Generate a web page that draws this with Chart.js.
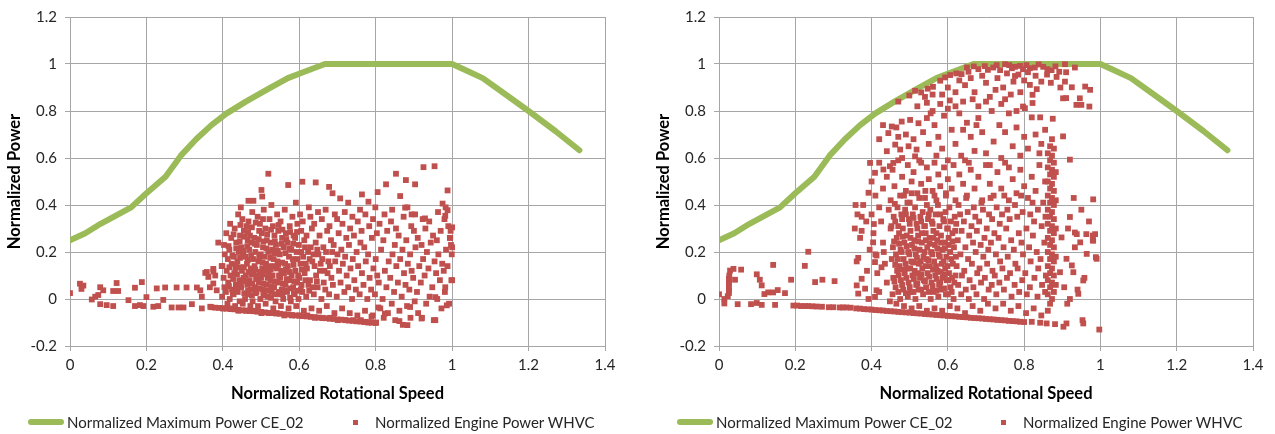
<!DOCTYPE html>
<html>
<head>
<meta charset="utf-8">
<script src="https://cdn.jsdelivr.net/npm/chart.js@4.4.1/dist/chart.umd.min.js"></script>
<style>
  body { margin: 0; background: #fff; }
  #wrap { position: relative; width: 1275px; height: 434px; font-family: Lato, "Noto Sans", sans-serif; color: #262626; }
  canvas { position: absolute; top: 0; }
  .lg-text { position: absolute; top: 412px; font-size: 15px; line-height: 20px; white-space: nowrap; }
  .lg-line { position: absolute; top: 419px; width: 36px; height: 6px; border-radius: 3px; background: #9bbb59; }
  .lg-box { position: absolute; top: 420px; width: 5px; height: 5px; background: #c0504d; }
</style>
</head>
<body>
<div id="wrap">
  <canvas id="chartA" width="637" height="434" style="left:0"></canvas>
  <canvas id="chartB" width="638" height="434" style="left:637px"></canvas>

  <div class="lg-line" style="left:28px"></div>
  <div class="lg-text" style="left:67px">Normalized Maximum Power CE_02</div>
  <div class="lg-box" style="left:353px"></div>
  <div class="lg-text" style="left:375px">Normalized Engine Power WHVC</div>

  <div class="lg-line" style="left:677px"></div>
  <div class="lg-text" style="left:716px">Normalized Maximum Power CE_02</div>
  <div class="lg-box" style="left:1001px"></div>
  <div class="lg-text" style="left:1023px">Normalized Engine Power WHVC</div>
</div>
<script>
// full load curve (same on both panels)
const speedMax = [0, 0.04, 0.08, 0.12, 0.16, 0.2, 0.25, 0.29, 0.33, 0.37, 0.41, 0.46, 0.52, 0.57, 0.61, 0.667, 1.0, 1.04, 1.08, 1.14, 1.2, 1.27, 1.333];
const powerMax = [0.25, 0.28, 0.32, 0.355, 0.39, 0.45, 0.52, 0.61, 0.68, 0.74, 0.79, 0.84, 0.895, 0.94, 0.965, 1.0, 1.0, 0.97, 0.94, 0.87, 0.8, 0.715, 0.633];

// left panel - WHVC points
const lowSpeedA = [[0,0.025],[0.026,0.065],[0.03,0.043],[0.035,0.057],[0.057,-0.002],[0.066,0.01],[0.074,0.017],[0.079,0.05],[0.087,0.037],
  [0.079,-0.022],[0.096,-0.026],[0.113,-0.03],[0.122,0.068],[0.113,0.034],[0.126,0.034],[0.153,-0.005],[0.17,-0.03],[0.183,-0.026],[0.192,-0.03],
  [0.17,0.048],[0.188,0.072],[0.2,0.008],[0.218,-0.033],[0.231,-0.03],[0.227,0.045],[0.249,0.049],[0.279,0.049],[0.305,0.049],[0.244,-0.004],
  [0.266,-0.036],[0.284,-0.036],[0.297,-0.036],[0.319,-0.022],[0.332,0.049],[0.341,0.037],[0.345,0.01],[0.354,0.111],[0.362,0.094],[0.375,0.117],
  [0.388,0.24],[0.375,0.066],[0.384,0.037],[0.345,-0.04],[0.367,-0.033],[0.397,0.14],[0.358,0.115],[0.375,0.128],[0.38,0.1],[0.366,0.05]];
const motoringA = [[0.37,-0.035],[0.38,-0.037],[0.39,-0.038],[0.40,-0.040],[0.41,-0.041],[0.42,-0.043],[0.43,-0.044],[0.44,-0.046],[0.45,-0.048],
  [0.46,-0.049],[0.47,-0.051],[0.48,-0.052],[0.49,-0.054],[0.50,-0.055],[0.51,-0.057],[0.52,-0.059],[0.53,-0.060],[0.54,-0.062],[0.55,-0.063],
  [0.56,-0.065],[0.57,-0.066],[0.58,-0.068],[0.59,-0.070],[0.60,-0.071],[0.61,-0.073],[0.62,-0.074],[0.63,-0.076],[0.64,-0.077],[0.65,-0.079],
  [0.66,-0.081],[0.67,-0.082],[0.68,-0.084],[0.69,-0.085],[0.70,-0.087],[0.71,-0.088],[0.72,-0.090],[0.73,-0.092],[0.74,-0.093],[0.75,-0.095],
  [0.76,-0.096],[0.77,-0.098],[0.78,-0.099],[0.79,-0.101],[0.80,-0.102]];
const cloudA = [
  [0.401,-0.04],[0.398,0.01],[0.404,0.05],[0.402,0.09],[0.399,0.14],[0.405,0.19],[0.403,0.23],
  [0.412,-0.02],[0.408,0.03],[0.414,0.07],[0.41,0.12],[0.413,0.17],[0.409,0.28],
  [0.421,-0.04],[0.418,0.0],[0.424,0.04],[0.42,0.1],[0.423,0.15],[0.417,0.21],[0.422,0.26],[0.419,0.32],
  [0.432,-0.03],[0.428,0.02],[0.434,0.06],[0.43,0.11],[0.433,0.13],[0.429,0.18],[0.435,0.24],[0.431,0.30],
  [0.441,-0.05],[0.444,-0.01],[0.439,0.03],[0.443,0.08],[0.438,0.16],[0.442,0.20],[0.445,0.27],[0.44,0.36],
  [0.452,-0.02],[0.448,0.05],[0.454,0.09],[0.45,0.12],[0.453,0.19],[0.449,0.22],[0.455,0.29],[0.451,0.34],[0.447,0.39],
  [0.461,-0.05],[0.458,0.0],[0.464,0.06],[0.46,0.10],[0.463,0.15],[0.459,0.18],[0.465,0.25],[0.462,0.31],
  [0.472,-0.03],[0.468,0.02],[0.474,0.04],[0.47,0.08],[0.473,0.13],[0.469,0.21],[0.475,0.24],[0.471,0.27],[0.467,0.33],
  [0.481,-0.05],[0.478,-0.01],[0.484,0.05],[0.48,0.11],[0.483,0.14],[0.479,0.17],[0.485,0.20],[0.482,0.26],[0.477,0.37],
  [0.492,-0.03],[0.488,0.03],[0.494,0.07],[0.49,0.10],[0.493,0.16],[0.489,0.23],[0.495,0.29],[0.491,0.35],
  [0.501,-0.06],[0.498,0.0],[0.504,0.04],[0.5,0.09],[0.503,0.13],[0.499,0.19],[0.505,0.22],[0.502,0.28],[0.497,0.32],
  [0.512,-0.02],[0.508,0.02],[0.514,0.06],[0.51,0.12],[0.513,0.15],[0.509,0.18],[0.515,0.25],[0.511,0.30],[0.507,0.38],
  [0.521,-0.06],[0.518,0.01],[0.524,0.08],[0.52,0.11],[0.523,0.14],[0.519,0.20],[0.525,0.24],[0.522,0.34],
  [0.532,-0.04],[0.528,0.03],[0.534,0.05],[0.53,0.10],[0.533,0.17],[0.529,0.21],[0.535,0.27],[0.531,0.31],[0.527,0.40],
  [0.541,-0.06],[0.538,-0.01],[0.544,0.07],[0.54,0.13],[0.543,0.16],[0.539,0.23],[0.545,0.29],[0.542,0.36],
  [0.552,-0.03],[0.548,0.02],[0.554,0.04],[0.55,0.09],[0.553,0.12],[0.549,0.19],[0.555,0.26],[0.551,0.33],
  [0.561,-0.07],[0.558,0.0],[0.564,0.06],[0.56,0.11],[0.563,0.15],[0.559,0.22],[0.565,0.28],[0.562,0.38],
  [0.572,-0.04],[0.568,0.03],[0.574,0.08],[0.57,0.14],[0.573,0.18],[0.569,0.24],[0.575,0.31],
  [0.581,-0.07],[0.578,-0.01],[0.584,0.05],[0.58,0.10],[0.583,0.17],[0.579,0.21],[0.585,0.27],[0.582,0.35],
  [0.592,-0.03],[0.588,0.02],[0.594,0.07],[0.59,0.12],[0.593,0.20],[0.589,0.26],[0.595,0.32],[0.591,0.41],
  [0.601,-0.07],[0.598,0.0],[0.604,0.04],[0.6,0.09],[0.603,0.15],[0.599,0.23],[0.605,0.29],[0.602,0.36],
  [0.612,-0.05],[0.608,0.03],[0.614,0.11],[0.61,0.18],[0.613,0.25],[0.609,0.33],
  [0.621,-0.07],[0.618,0.01],[0.624,0.06],[0.62,0.13],[0.623,0.20],[0.619,0.27],[0.625,0.39],
  [0.632,-0.04],[0.628,0.08],[0.634,0.16],[0.63,0.22],[0.633,0.30],[0.629,0.35],
  [0.641,-0.08],[0.638,0.02],[0.644,0.10],[0.64,0.14],[0.643,0.24],[0.639,0.32],
  [0.652,-0.05],[0.648,0.05],[0.654,0.12],[0.65,0.19],[0.653,0.27],[0.649,0.37],
  [0.661,-0.08],[0.658,0.0],[0.664,0.07],[0.66,0.17],[0.663,0.22],[0.659,0.34],
  [0.672,-0.03],[0.668,0.04],[0.674,0.11],[0.67,0.20],[0.673,0.29],[0.669,0.38],
  [0.681,-0.08],[0.678,0.02],[0.684,0.09],[0.68,0.14],[0.683,0.25],[0.679,0.31],
  [0.692,-0.06],[0.688,0.06],[0.694,0.16],[0.69,0.23],[0.693,0.36],
  [0.701,-0.09],[0.698,0.01],[0.704,0.12],[0.7,0.19],[0.703,0.28],[0.699,0.34],
  [0.712,-0.04],[0.708,0.07],[0.714,0.15],[0.71,0.21],[0.713,0.32],
  [0.721,-0.09],[0.718,0.03],[0.724,0.10],[0.72,0.18],[0.723,0.26],[0.719,0.37],
  [0.732,-0.06],[0.728,0.05],[0.734,0.13],[0.73,0.23],[0.733,0.30],
  [0.741,-0.09],[0.738,0.0],[0.744,0.08],[0.74,0.17],[0.743,0.27],[0.739,0.35],
  [0.752,-0.07],[0.748,0.04],[0.754,0.14],[0.75,0.20],[0.753,0.33],
  [0.761,-0.09],[0.758,0.02],[0.764,0.11],[0.76,0.24],[0.763,0.29],[0.759,0.38],
  [0.772,-0.05],[0.768,0.06],[0.774,0.16],[0.77,0.22],[0.773,0.36],
  [0.781,-0.10],[0.778,0.0],[0.784,0.09],[0.78,0.19],[0.783,0.31],
  [0.792,-0.07],[0.788,0.04],[0.794,0.13],[0.79,0.26],[0.793,0.34],
  [0.801,-0.10],[0.798,0.02],[0.804,0.10],[0.8,0.17],[0.803,0.28],[0.799,0.39],
  [0.812,-0.04],[0.808,0.07],[0.814,0.21],[0.81,0.32],
  [0.821,-0.08],[0.818,0.0],[0.824,0.12],[0.82,0.25],[0.823,0.36],
  [0.832,-0.06],[0.828,0.05],[0.834,0.16],[0.83,0.29],
  [0.842,-0.02],[0.838,0.09],[0.844,0.19],[0.84,0.33],[0.843,0.38],
  [0.851,-0.09],[0.848,0.03],[0.854,0.14],[0.85,0.23],[0.853,0.30],
  [0.862,-0.05],[0.858,0.07],[0.864,0.17],[0.86,0.27],
  [0.871,-0.11],[0.868,0.01],[0.874,0.11],[0.87,0.21],[0.873,0.35],
  [0.882,-0.03],[0.878,0.06],[0.884,0.15],[0.88,0.25],[0.883,0.39],
  [0.891,-0.08],[0.888,0.04],[0.894,0.12],[0.89,0.19],[0.893,0.31],
  [0.902,-0.01],[0.898,0.09],[0.904,0.22],[0.9,0.29],[0.903,0.36],
  [0.911,-0.06],[0.908,0.03],[0.914,0.14],[0.91,0.26],
  [0.921,-0.08],[0.918,0.07],[0.924,0.17],[0.92,0.23],[0.923,0.34],
  [0.932,-0.02],[0.928,0.10],[0.934,0.20],[0.93,0.30],
  [0.941,0.01],[0.938,0.13],[0.944,0.24],[0.94,0.33],
  [0.952,-0.09],[0.948,0.05],[0.954,0.16],[0.95,0.27],
  [0.961,0.0],[0.958,0.11],[0.964,0.19],[0.96,0.25],[0.963,0.37],
  [0.972,-0.04],[0.968,0.08],[0.974,0.15],[0.97,0.29],
  [0.981,0.03],[0.978,0.12],[0.984,0.21],[0.98,0.34],[0.983,0.39],
  [0.992,-0.02],[0.988,0.14],[0.994,0.26],[0.99,0.31],
  [0.998,0.08],[0.999,0.19],[0.997,0.23],[0.996,0.29]];
const denseA = [[0.416,0.055],[0.417,0.135],[0.415,0.225],[0.426,0.025],[0.427,0.085],[0.425,0.185],[0.428,0.275],
  [0.436,0.045],[0.437,0.105],[0.435,0.215],[0.434,0.145],[0.446,0.065],[0.447,0.135],[0.445,0.175],[0.444,0.245],[0.446,0.315],
  [0.456,0.025],[0.457,0.075],[0.455,0.135],[0.454,0.205],[0.456,0.265],[0.466,0.035],[0.467,0.115],[0.465,0.165],[0.464,0.225],[0.466,0.285],
  [0.476,0.015],[0.477,0.065],[0.475,0.105],[0.474,0.185],[0.476,0.305],[0.486,0.025],[0.487,0.085],[0.485,0.125],[0.484,0.235],[0.486,0.325],
  [0.496,0.045],[0.497,0.115],[0.495,0.175],[0.494,0.255],[0.506,0.015],[0.507,0.065],[0.505,0.105],[0.504,0.155],[0.506,0.245],[0.505,0.34],
  [0.516,0.035],[0.517,0.09],[0.515,0.135],[0.514,0.215],[0.516,0.275],[0.526,0.005],[0.527,0.055],[0.525,0.125],[0.524,0.175],[0.526,0.295],
  [0.536,0.02],[0.537,0.075],[0.535,0.14],[0.534,0.195],[0.536,0.245],[0.546,0.03],[0.547,0.1],[0.545,0.145],[0.544,0.205],[0.546,0.315],
  [0.556,0.02],[0.557,0.065],[0.555,0.155],[0.554,0.235],[0.556,0.295],[0.566,0.035],[0.567,0.085],[0.565,0.125],[0.564,0.195],[0.566,0.255],
  [0.576,0.005],[0.577,0.045],[0.575,0.115],[0.574,0.215],[0.576,0.285],[0.586,0.025],[0.587,0.075],[0.585,0.145],[0.584,0.235],
  [0.596,0.035],[0.597,0.1],[0.595,0.17],[0.594,0.285],[0.606,0.06],[0.607,0.125],[0.605,0.2],[0.616,0.08],[0.617,0.15],[0.615,0.22],
  [0.626,0.035],[0.627,0.17],[0.636,0.05],[0.637,0.19],[0.646,0.075],[0.647,0.21],[0.656,0.15],[0.666,0.12],[0.676,0.16],[0.686,0.2]];
const outliersA = [[0.519,0.533],[0.925,0.561],[0.954,0.565],[0.853,0.533],[0.571,0.485],[0.608,0.499],[0.643,0.496],[0.501,0.464],
  [0.678,0.477],[0.687,0.45],[0.764,0.445],[0.805,0.455],[0.827,0.488],[0.879,0.506],[0.903,0.488],[0.988,0.462],[0.503,0.436],
  [0.467,0.418],[0.48,0.418],[0.975,0.406],[0.864,0.438],[0.707,0.428],[0.728,0.41],[0.781,0.414],[0.877,0.389],[0.894,0.36],
  [0.929,0.343],[0.982,0.354],[0.988,0.378],[1.0,0.305],[0.995,0.26],[1.0,0.22],[1.0,0.08],[0.982,0.05],[0.956,0.008],[0.986,-0.027],
  [0.956,-0.09],[0.92,-0.083],[0.883,-0.111],[0.862,-0.094],[0.824,-0.062],[0.789,-0.076],[0.772,-0.097],[0.807,-0.036],[0.89,-0.034]];

// right panel - WHVC points
const lowSpeedB = [[0.0,0.02],[0.014,-0.019],[0.014,0.0],[0.023,0.012],[0.026,0.025],[0.026,0.037],[0.026,0.05],[0.026,0.065],[0.026,0.075],
  [0.026,0.086],[0.027,0.1],[0.029,0.121],[0.038,0.128],[0.042,0.082],[0.058,0.125],[0.049,-0.022],[0.084,-0.022],[0.099,-0.017],[0.112,-0.025],
  [0.099,0.105],[0.107,0.082],[0.112,0.058],[0.119,0.021],[0.129,0.028],[0.142,0.028],[0.154,0.038],[0.142,0.145],[0.173,0.025],[0.147,-0.025],
  [0.189,0.082],[0.195,-0.028],[0.205,-0.028],[0.215,-0.03],[0.225,-0.03],[0.234,-0.03],[0.245,-0.031],[0.256,-0.032],[0.225,0.141],[0.234,0.201],
  [0.252,0.072],[0.271,0.082],[0.27,-0.033],[0.288,-0.035],[0.3,-0.035],[0.303,0.076],[0.317,-0.036],[0.325,-0.036],[0.334,-0.036],[0.345,-0.037]];
const motoringB = [[0.36,-0.040],[0.37,-0.041],[0.38,-0.043],[0.39,-0.044],[0.40,-0.045],[0.41,-0.047],[0.42,-0.048],[0.43,-0.049],[0.44,-0.051],
  [0.45,-0.052],[0.46,-0.053],[0.47,-0.055],[0.48,-0.056],[0.49,-0.057],[0.50,-0.058],[0.51,-0.060],[0.52,-0.061],[0.53,-0.062],[0.54,-0.064],
  [0.55,-0.065],[0.56,-0.066],[0.57,-0.068],[0.58,-0.069],[0.59,-0.070],[0.60,-0.072],[0.61,-0.073],[0.62,-0.074],[0.63,-0.076],[0.64,-0.077],
  [0.65,-0.078],[0.66,-0.080],[0.67,-0.081],[0.68,-0.082],[0.69,-0.083],[0.70,-0.085],[0.71,-0.086],[0.72,-0.087],[0.73,-0.089],[0.74,-0.090],
  [0.75,-0.091],[0.76,-0.093],[0.77,-0.094],[0.78,-0.095],[0.79,-0.097],[0.80,-0.098],[0.82,-0.097],[0.842,-0.101],[0.859,-0.104],[0.881,-0.107],
  [0.903,-0.118],[0.911,-0.104],[0.955,-0.104],[0.997,-0.13]];
const upperB = [[0.47,0.84],[0.499,0.866],[0.514,0.886],[0.53,0.879],[0.547,0.895],[0.561,0.903],[0.58,0.929],[0.593,0.943],[0.606,0.953],
  [0.622,0.96],[0.636,0.957],[0.65,0.985],[0.654,0.967],[0.668,0.99],[0.68,0.978],[0.697,0.991],[0.705,0.975],[0.719,0.985],[0.728,0.995],
  [0.737,0.974],[0.75,0.999],[0.761,0.995],[0.768,0.982],[0.776,0.988],[0.789,0.992],[0.797,0.978],[0.806,0.995],[0.815,0.982],[0.828,0.985],
  [0.838,0.998],[0.85,0.988],[0.861,0.978],[0.872,0.974],[0.882,0.99],[0.892,0.967],[0.907,0.999],[0.933,0.985],[0.772,0.925],[0.776,0.949],
  [0.815,0.911],[0.833,0.893],[0.907,0.925],[0.925,0.901],[0.902,0.854],[0.96,0.904],[0.973,0.89],[0.946,0.854],[0.937,0.826],[0.971,0.819],
  [0.822,0.869],[0.822,0.834],[0.797,0.819],[0.802,0.812],[0.82,0.773],[0.842,0.773],[0.875,0.767],[0.855,0.72],[0.902,0.692],[0.92,0.593],
  [0.54,0.86],[0.56,0.87],[0.58,0.83],[0.6,0.9],[0.62,0.88],[0.63,0.93],[0.645,0.91],[0.66,0.94],[0.67,0.88],[0.69,0.95],[0.7,0.92],[0.71,0.86],
  [0.73,0.94],[0.745,0.9],[0.755,0.96],[0.765,0.87],[0.785,0.955],[0.8,0.93],[0.81,0.965],[0.83,0.95],[0.845,0.925],[0.86,0.955],[0.87,0.92],
  [0.885,0.945],[0.895,0.9],[0.91,0.965],[0.64,0.84],[0.68,0.82],[0.74,0.83],[0.6,0.81],[0.56,0.8],[0.52,0.82],[0.95,0.826],[0.91,0.855]];
const middleB = [[0.396,0.579],[0.409,0.537],[0.431,0.551],[0.448,0.565],[0.457,0.579],[0.392,0.452],[0.444,0.706],[0.453,0.734],[0.479,0.755],
  [0.501,0.762],[0.523,0.748],[0.462,0.657],[0.475,0.636],[0.497,0.65],[0.518,0.636],[0.44,0.629],[0.514,0.607],[0.43,0.74],[0.465,0.73],
  [0.49,0.7],[0.51,0.68],[0.535,0.71],[0.55,0.66],[0.545,0.77],[0.565,0.74],[0.575,0.69],[0.585,0.64],[0.59,0.78],[0.61,0.72],[0.62,0.66],
  [0.63,0.79],[0.635,0.61],[0.65,0.75],[0.66,0.69],[0.67,0.63],[0.68,0.77],[0.69,0.71],[0.7,0.62],[0.715,0.8],[0.72,0.67],[0.735,0.74],
  [0.74,0.6],[0.75,0.71],[0.76,0.79],[0.77,0.65],[0.78,0.73],[0.79,0.61],[0.8,0.69],[0.81,0.64],[0.83,0.7],[0.84,0.62],[0.845,0.66],
  [0.48,0.6],[0.53,0.58],[0.57,0.61],[0.6,0.59],[0.655,0.58],[0.71,0.57],[0.76,0.56],[0.42,0.68],[0.47,0.69],[0.555,0.79],[0.605,0.845],
  [0.585,0.87],[0.62,0.82],[0.665,0.85],[0.7,0.84],[0.725,0.89],[0.75,0.85],[0.78,0.8],[0.79,0.88],[0.545,0.835],[0.64,0.72],[0.675,0.74],
  [0.4,0.5],[0.41,0.44],[0.42,0.58],[0.43,0.47],[0.44,0.52],[0.45,0.42],[0.455,0.55],[0.46,0.48],[0.47,0.59],[0.475,0.44],[0.48,0.52],
  [0.49,0.46],[0.495,0.57],[0.5,0.41],[0.505,0.5],[0.51,0.54],[0.52,0.45],[0.525,0.59],[0.53,0.49],[0.54,0.43],[0.545,0.56],[0.55,0.51],
  [0.56,0.46],[0.565,0.58],[0.57,0.42],[0.575,0.53],[0.58,0.48],[0.59,0.56],[0.595,0.44],[0.6,0.51],[0.61,0.47],[0.615,0.57],[0.62,0.42],
  [0.63,0.53],[0.64,0.49],[0.645,0.59],[0.65,0.44],[0.66,0.55],[0.67,0.47],[0.68,0.52],[0.69,0.42],[0.7,0.57],[0.71,0.49],[0.72,0.44],
  [0.73,0.54],[0.74,0.47],[0.75,0.58],[0.76,0.42],[0.77,0.51],[0.78,0.45],[0.79,0.55],[0.8,0.48],[0.81,0.43],[0.82,0.52],[0.83,0.46],
  [0.84,0.57],[0.85,0.41],[0.855,0.5]];
const lowerB = [[0.358,0.4],[0.378,0.4],[0.363,0.36],[0.374,0.35],[0.374,0.29],[0.365,0.175],[0.361,0.058],[0.365,0.023],[0.374,0.086],
  [0.356,0.3],[0.37,0.26],[0.383,0.044],[0.392,0.0],[0.361,0.16],[0.388,0.12],[0.395,0.21],[0.386,0.33],[0.406,0.319],[0.404,0.241],
  [0.413,0.185],[0.409,0.157],[0.426,0.135],[0.413,0.037],[0.409,0.009],
  [0.4,0.36],[0.405,0.28],[0.41,0.19],[0.415,0.11],[0.42,0.03],[0.425,0.33],[0.43,0.24],[0.435,0.15],[0.44,0.07],[0.445,0.38],[0.45,0.3],
  [0.448,-0.01],[0.42,0.39],[0.432,0.2],
  [0.455,0.02],[0.457,0.09],[0.453,0.17],[0.456,0.22],[0.452,0.31],[0.458,0.35],
  [0.465,-0.02],[0.463,0.05],[0.467,0.12],[0.464,0.19],[0.466,0.26],[0.462,0.33],[0.468,0.39],
  [0.475,0.0],[0.477,0.08],[0.473,0.14],[0.476,0.21],[0.472,0.28],[0.478,0.36],
  [0.485,-0.03],[0.483,0.04],[0.487,0.11],[0.484,0.17],[0.486,0.24],[0.482,0.3],[0.488,0.38],[0.485,0.44],
  [0.495,0.01],[0.497,0.07],[0.493,0.13],[0.496,0.2],[0.492,0.27],[0.498,0.34],[0.494,0.41],
  [0.505,-0.04],[0.503,0.03],[0.507,0.1],[0.504,0.16],[0.506,0.23],[0.502,0.29],[0.508,0.36],[0.505,0.45],
  [0.515,0.0],[0.517,0.06],[0.513,0.12],[0.516,0.19],[0.512,0.25],[0.518,0.32],[0.514,0.39],
  [0.525,-0.03],[0.523,0.04],[0.527,0.09],[0.524,0.15],[0.526,0.21],[0.522,0.27],[0.528,0.35],[0.525,0.43],
  [0.535,0.02],[0.537,0.08],[0.533,0.13],[0.536,0.18],[0.532,0.24],[0.538,0.31],[0.534,0.37],
  [0.545,-0.05],[0.543,0.05],[0.547,0.11],[0.544,0.17],[0.546,0.22],[0.542,0.28],[0.548,0.34],[0.545,0.4],[0.541,0.46],
  [0.555,0.0],[0.557,0.07],[0.553,0.14],[0.556,0.2],[0.552,0.26],[0.558,0.33],[0.554,0.38],
  [0.565,-0.04],[0.563,0.03],[0.567,0.1],[0.564,0.16],[0.566,0.23],[0.562,0.29],[0.568,0.36],[0.565,0.44],
  [0.575,0.01],[0.577,0.06],[0.573,0.12],[0.576,0.19],[0.572,0.25],[0.578,0.31],[0.574,0.4],
  [0.585,-0.05],[0.583,0.04],[0.587,0.09],[0.584,0.15],[0.586,0.21],[0.582,0.27],[0.588,0.34],
  [0.595,0.02],[0.597,0.08],[0.593,0.13],[0.596,0.18],[0.592,0.24],[0.598,0.3],[0.594,0.37],[0.595,0.45],
  [0.605,-0.03],[0.607,0.05],[0.603,0.11],[0.606,0.2],[0.602,0.26],[0.608,0.33],[0.604,0.39],
  [0.615,0.0],[0.617,0.07],[0.613,0.15],[0.616,0.22],[0.612,0.28],[0.618,0.35],
  [0.625,-0.04],[0.627,0.06],[0.623,0.14],[0.626,0.25],[0.622,0.32],[0.628,0.4],
  [0.635,0.02],[0.637,0.1],[0.633,0.19],[0.636,0.29],[0.632,0.36],
  [0.645,-0.06],[0.647,0.04],[0.643,0.12],[0.646,0.22],[0.642,0.33],[0.648,0.43],
  [0.655,0.0],[0.657,0.08],[0.653,0.17],[0.656,0.27],[0.652,0.37],
  [0.665,-0.03],[0.667,0.05],[0.663,0.15],[0.666,0.24],[0.662,0.31],[0.668,0.39],
  [0.675,0.02],[0.677,0.11],[0.673,0.2],[0.676,0.29],[0.672,0.35],
  [0.685,-0.05],[0.687,0.07],[0.683,0.13],[0.686,0.23],[0.682,0.33],[0.688,0.41],
  [0.695,0.0],[0.697,0.09],[0.693,0.18],[0.696,0.26],[0.692,0.38],
  [0.705,-0.02],[0.707,0.04],[0.703,0.15],[0.706,0.21],[0.702,0.3],[0.708,0.36],
  [0.715,0.06],[0.717,0.12],[0.713,0.24],[0.716,0.34],[0.712,0.43],
  [0.725,-0.04],[0.727,0.02],[0.723,0.1],[0.726,0.19],[0.722,0.28],[0.728,0.39],
  [0.735,0.07],[0.737,0.16],[0.733,0.26],[0.736,0.32],
  [0.745,-0.02],[0.747,0.04],[0.743,0.13],[0.746,0.22],[0.742,0.36],[0.748,0.44],
  [0.755,0.09],[0.757,0.18],[0.753,0.3],[0.756,0.38],
  [0.765,-0.05],[0.767,0.01],[0.763,0.11],[0.766,0.25],[0.762,0.34],
  [0.775,0.06],[0.777,0.15],[0.773,0.21],[0.776,0.4],
  [0.785,-0.03],[0.787,0.03],[0.783,0.13],[0.786,0.28],[0.782,0.35],
  [0.795,0.08],[0.797,0.19],[0.793,0.24],[0.796,0.37],[0.792,0.44],
  [0.805,-0.06],[0.807,0.02],[0.803,0.11],[0.806,0.3],
  [0.815,0.05],[0.817,0.16],[0.813,0.22],[0.816,0.36],
  [0.825,-0.04],[0.827,0.09],[0.823,0.27],[0.826,0.33],[0.822,0.41],
  [0.835,0.01],[0.837,0.13],[0.833,0.2],[0.836,0.38],
  [0.845,-0.07],[0.847,0.06],[0.843,0.17],[0.846,0.31],
  [0.855,0.03],[0.857,0.1],[0.853,0.24],[0.856,0.35]];
const denseB = [[0.46,0.075],[0.462,0.145],[0.459,0.245],[0.461,0.405],[0.47,0.03],[0.471,0.1],[0.469,0.17],[0.472,0.235],[0.47,0.31],
  [0.48,0.06],[0.481,0.125],[0.479,0.2],[0.482,0.265],[0.48,0.34],[0.49,0.025],[0.491,0.09],[0.489,0.15],[0.492,0.225],[0.49,0.36],
  [0.5,0.05],[0.501,0.13],[0.499,0.19],[0.502,0.26],[0.5,0.32],[0.51,0.03],[0.511,0.085],[0.509,0.155],[0.512,0.215],[0.51,0.345],
  [0.52,0.065],[0.521,0.11],[0.519,0.175],[0.522,0.245],[0.52,0.3],[0.53,0.04],[0.531,0.105],[0.529,0.16],[0.532,0.28],[0.53,0.33],
  [0.54,0.075],[0.541,0.14],[0.539,0.2],[0.542,0.25],[0.54,0.31],[0.55,0.03],[0.551,0.095],[0.549,0.165],[0.552,0.235],[0.55,0.36],
  [0.56,0.055],[0.561,0.125],[0.559,0.19],[0.562,0.26],[0.56,0.32],[0.57,0.035],[0.571,0.085],[0.569,0.14],[0.572,0.215],[0.57,0.28],
  [0.58,0.07],[0.581,0.115],[0.579,0.18],[0.582,0.24],[0.58,0.36],[0.59,0.045],[0.591,0.105],[0.589,0.16],[0.592,0.215],[0.59,0.33],
  [0.6,0.02],[0.601,0.08],[0.599,0.14],[0.602,0.23],[0.6,0.3],[0.61,0.03],[0.611,0.09],[0.609,0.17],[0.612,0.245],[0.62,0.1],[0.621,0.18],[0.619,0.29]];
const streakB = [[0.862,-0.05],[0.862,0.02],[0.862,0.08],[0.862,0.14],[0.862,0.2],[0.862,0.26],[0.862,0.32],[0.862,0.38],[0.862,0.44],[0.862,0.5],
  [0.862,0.56],[0.862,0.62],[0.868,-0.02],[0.868,0.05],[0.868,0.11],[0.868,0.17],[0.868,0.23],[0.868,0.29],[0.868,0.35],[0.868,0.41],[0.868,0.47],
  [0.868,0.53],[0.868,0.59],[0.868,0.65],[0.873,0.0],[0.873,0.07],[0.873,0.13],[0.873,0.19],[0.873,0.25],[0.873,0.31],[0.873,0.37],[0.873,0.43],
  [0.873,0.49],[0.873,0.55],[0.873,0.61],[0.873,0.68],[0.878,0.03],[0.878,0.1],[0.878,0.16],[0.878,0.22],[0.878,0.28],[0.878,0.34],[0.878,0.4],
  [0.878,0.46],[0.878,0.52],[0.878,0.58],[0.878,0.64],[0.883,0.06],[0.883,0.18],[0.883,0.3],[0.883,0.42],[0.883,0.54]];
const sparseB = [[0.894,0.114],[0.898,0.262],[0.911,0.171],[0.92,0.349],[0.925,0.143],[0.929,0.114],[0.938,0.276],[0.947,0.241],[0.964,0.192],
  [0.955,0.079],[0.942,0.022],[0.913,-0.02],[0.981,0.424],[0.986,0.276],[0.981,0.248],[0.988,0.178],[0.99,0.171],[0.905,0.05],[0.93,0.43],
  [0.95,0.38],[0.97,0.33],[0.915,0.3],[0.933,0.283],[0.963,0.276],[0.98,0.27],[0.98,0.25],[0.933,0.22],[0.958,0.09],[0.94,0.04],[0.92,0.0],
  [0.953,-0.09]];

const GREEN = '#9bbb59';
const RED = '#c0504d';
const GRID = '#a6a6a6';
const FONT = 'Lato, "Noto Sans", sans-serif';

function toXY(list) {
  return list.map(p => ({ x: p[0], y: p[1] }));
}

// Excel style labels: 1, 0.8, 0, -0.2
function fmtTick(v) {
  const r = Math.round(v * 10) / 10;
  return String(Math.abs(r) < 1e-9 ? 0 : r);
}

function buildChart(id, points, padLeft, padRight) {
  return new Chart(document.getElementById(id), {
    type: 'scatter',
    data: {
      datasets: [
        {
          label: 'Normalized Engine Power WHVC',
          data: toXY(points),
          pointStyle: 'rect',
          pointRadius: 4.1,
          backgroundColor: RED,
          borderWidth: 0,
          order: 0
        },
        {
          label: 'Normalized Maximum Power CE_02',
          data: speedMax.map((s, i) => ({ x: s, y: powerMax[i] })),
          showLine: true,
          borderColor: GREEN,
          borderWidth: 6,
          borderCapStyle: 'round',
          borderJoinStyle: 'round',
          pointRadius: 0,
          order: 1
        }
      ]
    },
    options: {
      responsive: false,
      animation: false,
      events: [],
      layout: { padding: { left: padLeft, right: padRight, top: 15, bottom: 28 } },
      plugins: { legend: { display: false }, tooltip: { enabled: false } },
      scales: {
        x: {
          type: 'linear', min: 0, max: 1.4,
          ticks: { stepSize: 0.2, padding: 5, color: '#262626', font: { family: FONT, size: 15 }, callback: fmtTick },
          grid: { color: GRID, tickLength: 5 },
          border: { color: GRID },
          title: { display: true, text: 'Normalized Rotational Speed', color: '#000',
                   font: { family: FONT, size: 16.5, weight: 'bold' }, padding: { top: 4, bottom: 2 } },
          afterFit: s => { s.height = 60; }
        },
        y: {
          min: -0.2, max: 1.2,
          ticks: { stepSize: 0.2, padding: 8, color: '#262626', font: { family: FONT, size: 15 }, callback: fmtTick },
          grid: { color: GRID, tickLength: 5 },
          border: { color: GRID },
          title: { display: true, text: 'Normalized Power', color: '#000',
                   font: { family: FONT, size: 16.5, weight: 'bold' }, padding: { top: 5, bottom: 0 } },
          afterFit: s => { s.width = 70; }
        }
      }
    }
  });
}

buildChart('chartA', [...lowSpeedA, ...motoringA, ...cloudA, ...denseA, ...outliersA], 0, 32);
buildChart('chartB', [...lowSpeedB, ...motoringB, ...upperB, ...middleB, ...lowerB, ...denseB, ...streakB, ...sparseB], 12, 22);
</script>
</body>
</html>
